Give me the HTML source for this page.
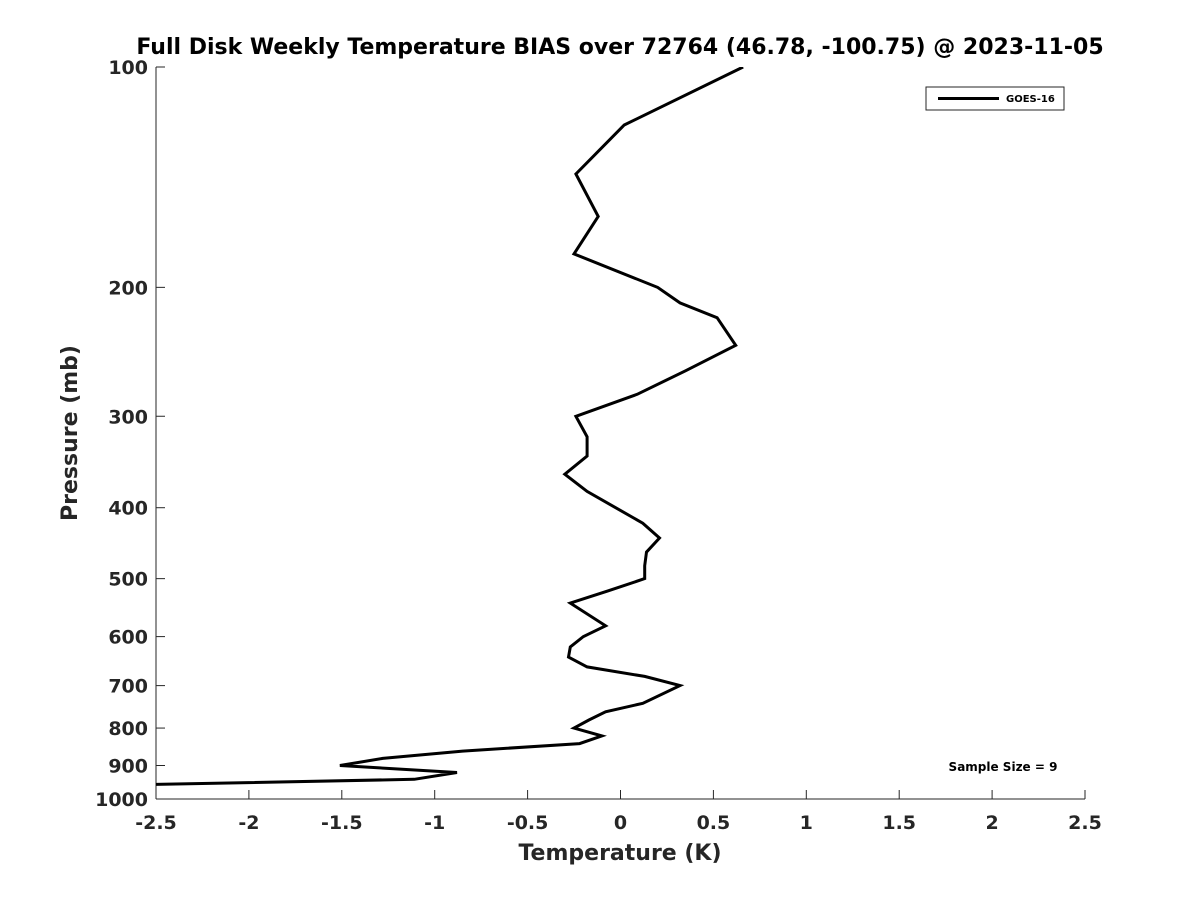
<!DOCTYPE html>
<html><head><meta charset="utf-8"><style>
body{margin:0;background:#fff;}
svg text{font-family:"DejaVu Sans","Liberation Sans",sans-serif;font-weight:bold;fill:#262626;}
</style></head><body>
<svg id="chart" width="1200" height="900">
<text x="620" y="54" text-anchor="middle" font-size="22" style="fill:#000">Full Disk Weekly Temperature BIAS over 72764 (46.78, -100.75) @ 2023-11-05</text>
<g id="axes"></g>
<defs><clipPath id="clip"><rect x="156" y="67" width="929" height="732"/></clipPath></defs>
<g id="series" clip-path="url(#clip)"></g>
<g>
<rect x="926" y="87" width="138" height="23" fill="#fff" stroke="#262626" stroke-width="1"/>
<line x1="938" y1="98.5" x2="999" y2="98.5" stroke="#000" stroke-width="3"/>
<text x="1006" y="102" font-size="10" style="fill:#000">GOES-16</text>
</g>
<text x="1003" y="771" text-anchor="middle" font-size="12" style="fill:#000">Sample Size = 9</text>
<text x="620" y="860" text-anchor="middle" font-size="22">Temperature (K)</text>
<text transform="translate(77,433) rotate(-90)" text-anchor="middle" font-size="22">Pressure (mb)</text>
</svg>
<script>
const xTicks=[-2.5,-2,-1.5,-1,-0.5,0,0.5,1,1.5,2,2.5];
const xTickLabels=["-2.5","-2","-1.5","-1","-0.5","0","0.5","1","1.5","2","2.5"];
const yTicks=[100,200,300,400,500,600,700,800,900,1000];
const pressure=[100,120,140,160,180,200,210,220,240,260,280,300,320,340,360,380,420,440,460,480,500,520,540,580,600,620,640,660,680,700,740,760,780,800,820,840,860,880,900,920,940,955];
const bias=[0.66,0.02,-0.24,-0.12,-0.25,0.2,0.32,0.52,0.62,0.35,0.09,-0.24,-0.18,-0.18,-0.3,-0.18,0.12,0.21,0.14,0.13,0.13,-0.07,-0.27,-0.08,-0.2,-0.27,-0.28,-0.18,0.13,0.32,0.12,-0.08,-0.17,-0.25,-0.1,-0.22,-0.85,-1.28,-1.51,-0.88,-1.11,-2.5];
const X0=156,X1=1085,Y0=67,Y1=799;
const xs=v=>X0+(v+2.5)/5*(X1-X0);
const ys=p=>Y0+Math.log10(p/100)*(Y1-Y0);
const NS="http://www.w3.org/2000/svg";
const ax=document.getElementById('axes');
function mk(t,a,parent){const e=document.createElementNS(NS,t);for(const k in a)e.setAttribute(k,a[k]);parent.appendChild(e);return e;}
const xa=mk('line',{x1:X0,y1:Y1,x2:X1,y2:Y1,stroke:'#262626','stroke-width':1},ax);


const ya=mk('line',{x1:X0,y1:Y0,x2:X0,y2:Y1,stroke:'#262626','stroke-width':1},ax);


xTicks.forEach((v,i)=>{
  mk('line',{x1:xs(v),y1:Y1,x2:xs(v),y2:Y1-9,stroke:'#262626'},ax);
  const t=mk('text',{x:xs(v),y:Y1+30,'text-anchor':'middle','font-size':19},ax);
  t.textContent=xTickLabels[i];
  
  
});
yTicks.forEach(p=>{
  mk('line',{x1:X0,y1:ys(p),x2:X0+9,y2:ys(p),stroke:'#262626'},ax);
  const t=mk('text',{x:X0-8,y:ys(p)+7,'text-anchor':'end','font-size':19},ax);
  t.textContent=String(p);
  
  
});
const pts=pressure.map((p,i)=>xs(bias[i]).toFixed(1)+','+ys(p).toFixed(1)).join(' ');
const pl=mk('polyline',{points:pts,fill:'none',stroke:'#000','stroke-width':3,'stroke-linejoin':'miter'},document.getElementById('series'));


</script>
</body></html>
